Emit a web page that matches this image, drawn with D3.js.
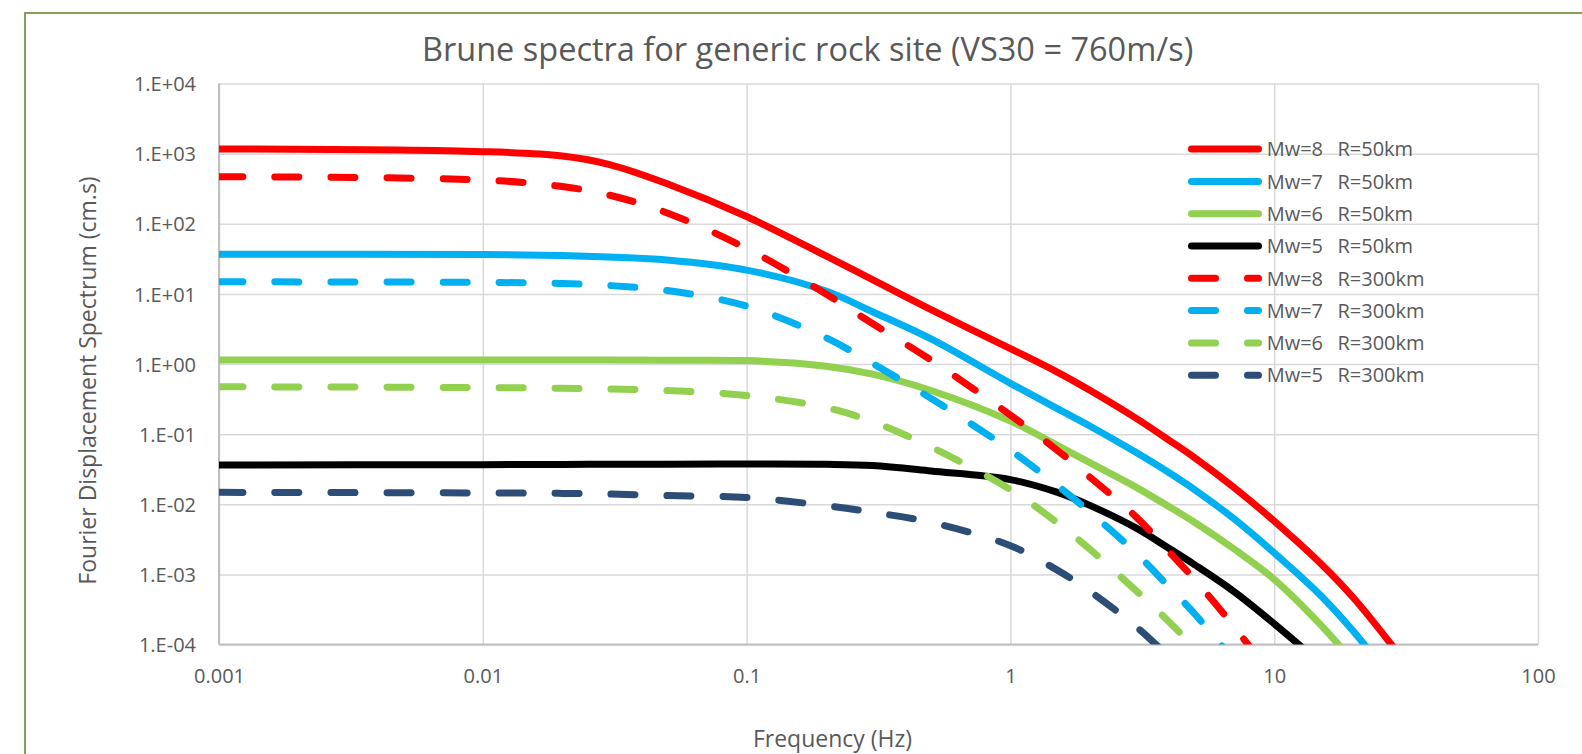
<!DOCTYPE html>
<html>
<head>
<meta charset="utf-8">
<script src="https://cdn.jsdelivr.net/npm/d3@7"></script>
<style>
  html, body { margin: 0; padding: 0; background: #fff; }
  text { font-family: "Open Sans", sans-serif; fill: #595959; }
</style>
</head>
<body>
<div id="chart"></div>
<script>
// frequency grid (Hz) shared by all series
var freq = [0.001, 0.01, 0.02, 0.03, 0.05, 0.1, 0.2, 0.3, 0.5, 1, 1.5, 2, 3, 4, 5, 7, 10, 15, 20, 30];

// Fourier displacement spectrum (cm.s); null = below the axis
var mw8r50  = [1170, 1070, 927, 706, 373, 127, 34.8, 16.0, 5.98, 1.66, 0.774, 0.423, 0.168, 0.0817, 0.0460, 0.0177, 0.00575, 0.00143, 0.000460, 0.0000692];
var mw7r50  = [36.7, 36.5, 35.3, 33.6, 30.5, 21.9, 11.0, 5.58, 2.28, 0.531, 0.233, 0.131, 0.0546, 0.0281, 0.0161, 0.00631, 0.00203, 0.000501, 0.000153, 0.0000224];
var mw6r50  = [1.14, 1.14, 1.14, 1.14, 1.13, 1.12, 0.933, 0.718, 0.420, 0.154, 0.0700, 0.0392, 0.0174, 0.00920, 0.00550, 0.00234, 0.000851, 0.000191, 0.0000562, null];
var mw5r50  = [0.0363, 0.0367, 0.0370, 0.0372, 0.0373, 0.0374, 0.0371, 0.0356, 0.0298, 0.0225, 0.0149, 0.00964, 0.00457, 0.00234, 0.00137, 0.000578, 0.000198, 0.0000537, null, null];
var mw8r300 = [470, 422, 340, 258, 143, 44.5, 9.98, 3.78, 1.14, 0.187, 0.0596, 0.0244, 0.00656, 0.00209, 0.000838, 0.000186, 0.0000316, null, null, null];
var mw7r300 = [14.9, 14.6, 14.1, 13.2, 11.2, 6.71, 2.37, 1.02, 0.324, 0.0590, 0.0187, 0.00776, 0.00200, 0.000656, 0.000272, 0.0000603, null, null, null, null];
var mw6r300 = [0.474, 0.462, 0.452, 0.440, 0.419, 0.356, 0.239, 0.151, 0.0655, 0.0162, 0.00550, 0.00229, 0.000581, 0.000209, 0.0000891, null, null, null, null, null];
var mw5r300 = [0.0148, 0.0145, 0.0143, 0.0140, 0.0133, 0.0125, 0.00955, 0.00769, 0.00552, 0.00257, 0.00116, 0.000575, 0.000179, 0.0000661, null, null, null, null, null, null];

var seriesNames = ["Mw=8  R=50km", "Mw=7  R=50km", "Mw=6  R=50km", "Mw=5  R=50km",
                   "Mw=8  R=300km", "Mw=7  R=300km", "Mw=6  R=300km", "Mw=5  R=300km"];
var seriesValues = [mw8r50, mw7r50, mw6r50, mw5r50, mw8r300, mw7r300, mw6r300, mw5r300];
var seriesColors = ["#ff0000", "#00b0f0", "#92d050", "#000000", "#ff0000", "#00b0f0", "#92d050", "#2c4d76"];
var seriesDashed = [false, false, false, false, true, true, true, true];

var xTicks = [0.001, 0.01, 0.1, 1, 10, 100];
var xTickLabels = ["0.001", "0.01", "0.1", "1", "10", "100"];
var yTicks = [1e-4, 1e-3, 1e-2, 1e-1, 1e0, 1e1, 1e2, 1e3, 1e4];
var yTickLabels = ["1.E-04", "1.E-03", "1.E-02", "1.E-01", "1.E+00", "1.E+01", "1.E+02", "1.E+03", "1.E+04"];

/*
 * Bounds of the plot area.
 */
var width = 1582, height = 754;
var plotLeft = 219, plotRight = 1538, plotTop = 83.6, plotBottom = 644.5;

var svg = d3.select("#chart").append("svg")
  .attr("width", width)
  .attr("height", height);

// chart border
svg.append("rect")
  .attr("x", 25).attr("y", 13)
  .attr("width", 1600).attr("height", 800)
  .attr("fill", "#fff")
  .attr("stroke", "#77933c")
  .attr("stroke-width", 1.75);

var x = d3.scaleLog().domain([0.001, 100]).range([plotLeft, plotRight]);
var y = d3.scaleLog().domain([1e-4, 1e4]).range([plotBottom, plotTop]);

/*
 * Gridlines + tick labels.
 */
var xAxis = svg.append("g")
  .attr("transform", "translate(0," + plotBottom + ")")
  .call(d3.axisBottom(x)
    .tickValues(xTicks)
    .tickSize(-(plotBottom - plotTop))
    .tickPadding(24.6)
    .tickFormat(function(d, i) { return xTickLabels[i]; }));

var yAxis = svg.append("g")
  .attr("transform", "translate(" + plotLeft + ",0)")
  .call(d3.axisLeft(y)
    .tickValues(yTicks)
    .tickSize(-(plotRight - plotLeft))
    .tickPadding(23)
    .tickFormat(function(d, i) { return yTickLabels[i]; }));

[xAxis, yAxis].forEach(function(g) {
  g.select(".domain").remove();
  g.selectAll(".tick line").attr("stroke", "#d9d9d9").attr("stroke-width", 1.5);
  g.selectAll(".tick text")
    .attr("fill", "#595959")
    .style("font-family", "'Open Sans', sans-serif")
    .style("font-size", "20px");
});
yAxis.selectAll(".tick text").attr("dy", "0.355em");

// axis lines
svg.append("line").attr("x1", plotLeft).attr("x2", plotLeft).attr("y1", plotTop).attr("y2", plotBottom)
  .attr("stroke", "#bfbfbf").attr("stroke-width", 2);
svg.append("line").attr("x1", plotLeft).attr("x2", plotRight).attr("y1", plotBottom).attr("y2", plotBottom)
  .attr("stroke", "#bfbfbf").attr("stroke-width", 2);

/*
 * Series.
 */
svg.append("clipPath").attr("id", "plotclip")
  .append("rect")
  .attr("x", plotLeft).attr("y", plotTop)
  .attr("width", plotRight - plotLeft).attr("height", plotBottom - plotTop);

var line = d3.line()
  .defined(function(d) { return d.v !== null; })
  .x(function(d) { return x(d.f); })
  .y(function(d) { return y(d.v); })
  .curve(d3.curveCatmullRom.alpha(0.5));

var plot = svg.append("g").attr("clip-path", "url(#plotclip)");

seriesValues.forEach(function(vals, i) {
  var pts = freq.map(function(f, j) { return { f: f, v: vals[j] }; });
  plot.append("path")
    .datum(pts)
    .attr("d", line)
    .attr("fill", "none")
    .attr("stroke", seriesColors[i])
    .attr("stroke-width", 7)
    .attr("stroke-linecap", "round")
    .attr("stroke-linejoin", "round")
    .attr("stroke-dasharray", seriesDashed[i] ? "24,32" : null);
});

/*
 * Legend.
 */
var legend = svg.append("g");
seriesNames.forEach(function(name, i) {
  var ly = 149.1 + i * 32.3;
  legend.append("line")
    .attr("x1", 1191.5).attr("x2", 1258.5)
    .attr("y1", ly).attr("y2", ly)
    .attr("stroke", seriesColors[i])
    .attr("stroke-width", 7)
    .attr("stroke-linecap", "round")
    .attr("stroke-dasharray", seriesDashed[i] ? "24,32" : null);
  legend.append("text")
    .attr("x", 1266.7)
    .attr("y", ly + 7.2)
    .style("font-size", "20px")
    .style("white-space", "pre")
    .style("word-spacing", "2px")
    .text(name);
});

/*
 * Titles.
 */
svg.append("text")
  .attr("x", 807.6).attr("y", 61)
  .attr("text-anchor", "middle")
  .style("font-size", "32.5px")
  .text("Brune spectra for generic rock site (VS30 = 760m/s)");

svg.append("text")
  .attr("x", 832.5).attr("y", 747)
  .attr("text-anchor", "middle")
  .style("font-size", "23px")
  .text("Frequency (Hz)");

svg.append("text")
  .attr("transform", "translate(96,380.5) rotate(-90)")
  .attr("text-anchor", "middle")
  .style("font-size", "23px")
  .text("Fourier Displacement Spectrum (cm.s)");
</script>
</body>
</html>
